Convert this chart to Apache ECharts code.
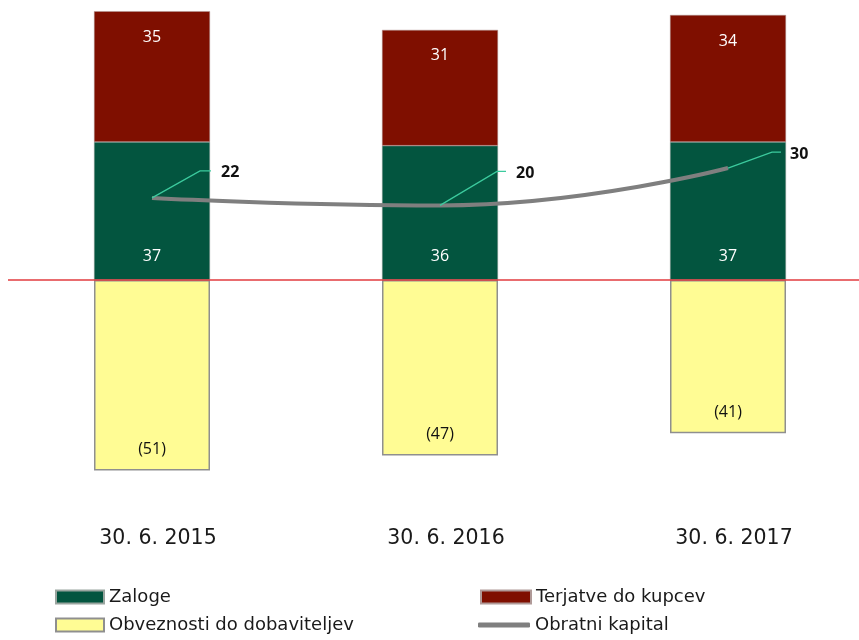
<!DOCTYPE html>
<html>
<head>
<meta charset="utf-8">
<script src="https://cdn.jsdelivr.net/npm/echarts@6/dist/echarts.min.js"></script>
<style>
  html, body { margin: 0; padding: 0; background: #fff; }
  #chart { width: 859px; height: 640px; }
</style>
</head>
<body>
<div id="chart"></div>
<script>
// Working capital components (in millions)
const categories = ['30. 6. 2015', '30. 6. 2016', '30. 6. 2017'];
const inventories = [37, 36, 37];          // Zaloge
const receivables = [35, 31, 34];          // Terjatve do kupcev
const payables = [-51, -47, -41];          // Obveznosti do dobaviteljev
const workingCapital = [22, 20, 30];       // Obratni kapital

// Leader-line geometry for the working capital labels (pixel offsets from the point)
const leaderStyle = [
  { elbow: [48, -27], end: [59, -27], text: [69, -25] },
  { elbow: [57, -34], end: [66, -34], text: [76, -32] },
  { elbow: [44, -16], end: [53, -16], text: [62, -14] }
];

const FONT = 'Open Sans';
const UI_FONT = 'DejaVu Sans';
const chart = echarts.init(document.getElementById('chart'), null, { renderer: 'canvas' });

const barLabel = (pos, dist, color) => ({
  show: true,
  position: pos,
  distance: dist,
  color: color,
  fontFamily: FONT,
  fontSize: 16,
  formatter: p => p.value < 0 ? '(' + Math.abs(p.value) + ')' : String(p.value)
});

// one legend block per entry so the two columns line up
const legendText = { fontFamily: UI_FONT, fontSize: 18, color: '#1a1a1a', lineHeight: 18 };
const legendBlock = (name, left, top, w, h, icon) => ({
  orient: 'horizontal', left: left, top: top,
  itemWidth: w, itemHeight: h,
  icon: icon,
  textStyle: legendText,
  data: [name]
});

chart.setOption({
  animation: false,
  backgroundColor: '#ffffff',
  grid: { left: 8, top: 0, width: 864, height: 485.5, outerBoundsMode: 'none' },
  legend: [
    legendBlock('Zaloge', 50, 583, 48, 13, 'rect'),
    legendBlock('Obveznosti do dobaviteljev', 50, 611, 48, 13, 'rect'),
    legendBlock('Terjatve do kupcev', 475, 583, 50, 13, 'rect'),
    legendBlock('Obratni kapital', 473, 611, 52, 5, 'roundRect')
  ],
  xAxis: {
    type: 'category',
    data: categories,
    axisLine: { show: false, onZero: false },
    axisTick: { show: false },
    axisLabel: { margin: 43, padding: [0, 0, 0, 12], fontFamily: UI_FONT, fontSize: 20.5, color: '#1a1a1a' }
  },
  yAxis: {
    type: 'value',
    min: -55, max: 75,
    show: false,
    splitLine: { show: false }
  },
  series: [
    {
      name: 'Zaloge',
      type: 'bar',
      stack: 'wc',
      barWidth: 116,
      data: inventories,
      itemStyle: { color: '#03553F', borderColor: '#9aa59f', borderWidth: 0.5 },
      label: barLabel('insideBottom', 16, '#ffffff')
    },
    {
      name: 'Terjatve do kupcev',
      type: 'bar',
      stack: 'wc',
      barWidth: 116,
      data: receivables,
      itemStyle: { color: '#7F0F00', borderColor: '#b09a98', borderWidth: 0.5 },
      label: barLabel('insideTop', 18, '#ffffff')
    },
    {
      name: 'Obveznosti do dobaviteljev',
      type: 'bar',
      stack: 'wc',
      barWidth: 116,
      data: payables,
      itemStyle: { color: '#FFFC94', borderColor: '#8f8f8f', borderWidth: 1.5 },
      label: barLabel('insideBottom', 13, '#111111')
    },
    {
      name: 'Obratni kapital',
      type: 'line',
      z: 5,
      data: workingCapital,
      smooth: 0.5,
      symbol: 'none',
      lineStyle: { color: '#7F7F7F', width: 4 },
      itemStyle: { color: '#7F7F7F' },
      markLine: {
        silent: true,
        symbol: 'none',
        label: { show: false },
        lineStyle: { color: '#E23B3F', width: 1.5, type: 'solid' },
        data: [{ yAxis: 0 }]
      }
    },
    {
      // value labels for the working capital line with their leader lines
      name: 'wcLabels',
      type: 'custom',
      z: 6,
      silent: true,
      data: workingCapital.map((v, i) => [i, v]),
      renderItem: function (params, api) {
        const i = params.dataIndex;
        const p = api.coord([api.value(0), api.value(1)]);
        const s = leaderStyle[i];
        return {
          type: 'group',
          children: [
            {
              type: 'polyline',
              shape: { points: [p, [p[0] + s.elbow[0], p[1] + s.elbow[1]], [p[0] + s.end[0], p[1] + s.end[1]]] },
              style: { stroke: '#3CCB9E', lineWidth: 1.3, fill: null }
            },
            {
              type: 'text',
              x: p[0] + s.text[0],
              y: p[1] + s.text[1],
              style: {
                text: String(api.value(1)),
                fontFamily: FONT,
                fontWeight: 'bold',
                fontSize: 16,
                fill: '#111111',
                verticalAlign: 'middle',
                align: 'left'
              }
            }
          ]
        };
      }
    }
  ]
});
</script>
</body>
</html>
